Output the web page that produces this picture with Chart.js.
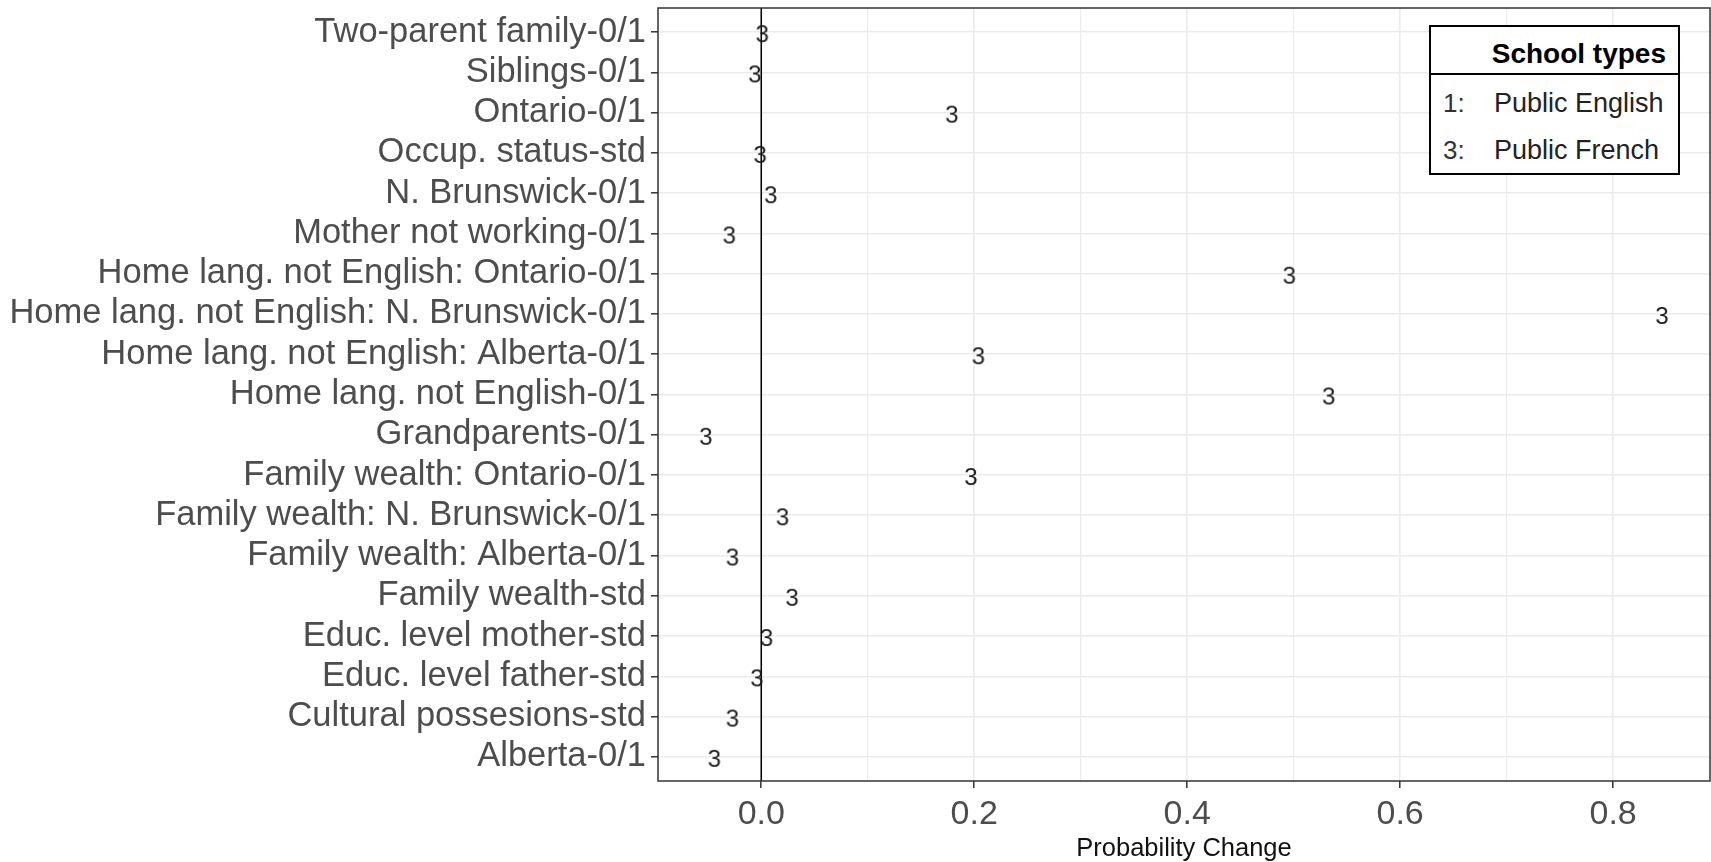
<!DOCTYPE html>
<html>
<head>
<meta charset="utf-8">
<script src="https://cdn.jsdelivr.net/npm/chart.js@4.4.1/dist/chart.umd.min.js"></script>
<style>
html,body{margin:0;padding:0;background:#fff;}
#wrap{position:relative;width:1711px;height:862px;overflow:hidden;}
#legend{position:absolute;left:1429px;top:25px;width:251px;height:150px;box-sizing:border-box;border:2px solid #000;background:#fff;font-family:"Liberation Sans",Arial,sans-serif;}
#legend .sep{position:absolute;left:0;right:0;top:46px;height:0;border-top:2px solid #000;}
#legend .t{position:absolute;line-height:1;transform:translateY(-50%);white-space:nowrap;}
#legend .title{right:12px;top:27px;font-weight:bold;font-size:28px;color:#000;}
#legend .k{left:12px;font-size:26px;color:#333;}
#legend .v{left:63px;font-size:27px;color:#222;}
</style>
</head>
<body>
<div id="wrap">
<canvas id="c" width="1711" height="862"></canvas>
<div id="legend">
  <div class="t title" id="legTitle"></div>
  <div class="sep"></div>
</div>
</div>
<script>
// ---- data ----
const categories = [
  "Two-parent family-0/1",
  "Siblings-0/1",
  "Ontario-0/1",
  "Occup. status-std",
  "N. Brunswick-0/1",
  "Mother not working-0/1",
  "Home lang. not English: Ontario-0/1",
  "Home lang. not English: N. Brunswick-0/1",
  "Home lang. not English: Alberta-0/1",
  "Home lang. not English-0/1",
  "Grandparents-0/1",
  "Family wealth: Ontario-0/1",
  "Family wealth: N. Brunswick-0/1",
  "Family wealth: Alberta-0/1",
  "Family wealth-std",
  "Educ. level mother-std",
  "Educ. level father-std",
  "Cultural possesions-std",
  "Alberta-0/1"
];
const publicFrench = [0.001, -0.006, 0.179, -0.001, 0.009, -0.030, 0.496, 0.846, 0.204, 0.533,
                      -0.052, 0.197, 0.020, -0.027, 0.029, 0.005, -0.004, -0.027, -0.044];
const markerLabel = "3";
const xTickValues = [0, 0.2, 0.4, 0.6, 0.8];
const xTickLabels = ["0.0", "0.2", "0.4", "0.6", "0.8"];
const xMinorValues = [0.1, 0.3, 0.5, 0.7];
const legendTitle = "School types";
const legendKeys = ["1:", "3:"];
const legendNames = ["Public English", "Public French"];
const xTitle = "Probability Change";

// ---- legend (HTML text) ----
const leg = document.getElementById('legend');
document.getElementById('legTitle').textContent = legendTitle;
const rowY = [76, 123];
legendKeys.forEach((k, i) => {
  const a = document.createElement('div'); a.className = 't k'; a.style.top = rowY[i] + 'px'; a.textContent = k; leg.appendChild(a);
  const b = document.createElement('div'); b.className = 't v'; b.style.top = rowY[i] + 'px'; b.textContent = legendNames[i]; leg.appendChild(b);
});

// ---- marker glyph ----
const FONT = '"Liberation Sans", Arial, sans-serif';
const glyph = document.createElement('canvas');
glyph.width = 24; glyph.height = 34;
{
  const g = glyph.getContext('2d');
  g.font = '24px ' + FONT;
  g.fillStyle = '#1a1a1a';
  g.textAlign = 'center';
  g.textBaseline = 'alphabetic';
  g.fillText(markerLabel, 12, 17 + 0.358 * 24 + 1);
}

Chart.defaults.font.family = FONT;

const gridVals = xTickValues.concat(xMinorValues).sort((a, b) => a - b);
const isMajor = v => xTickValues.some(t => Math.abs(t - v) < 1e-9);
const noPad = s => { s.paddingTop = 0; s.paddingBottom = 0; s.paddingLeft = 0; s.paddingRight = 0; };

const panelBorder = {
  id: 'panelBorder',
  afterDatasetsDraw(chart) {
    const {ctx, chartArea: a} = chart;
    ctx.save();
    ctx.strokeStyle = '#333';
    ctx.lineWidth = 1.5;
    ctx.strokeRect(a.left, a.top, a.right - a.left, a.bottom - a.top);
    ctx.restore();
  }
};

const target = {left: 658, top: 8, right: 1710, bottom: 781};

const chart = new Chart(document.getElementById('c'), {
  type: 'scatter',
  data: {
    datasets: [
      {
        label: 'Public French',
        data: publicFrench.map((v, i) => ({x: v, y: i})),
        pointStyle: glyph,
        pointRadius: 10,
        pointHoverRadius: 10
      },
      {
        label: 'zero',
        data: [{x: 0, y: -0.6}, {x: 0, y: categories.length - 0.4}],
        showLine: true,
        borderColor: '#000',
        borderWidth: 1.5,
        pointRadius: 0
      }
    ]
  },
  options: {
    responsive: false,
    animation: false,
    devicePixelRatio: 1,
    layout: {autoPadding: false, padding: {top: 8, right: 1, left: 0, bottom: 0}},
    plugins: {legend: {display: false}, tooltip: {enabled: false}},
    scales: {
      x: {
        type: 'linear',
        min: -0.097,
        max: 0.891,
        afterBuildTicks: axis => { axis.ticks = gridVals.map(v => ({value: v})); },
        afterFit: s => { s.height = 81; noPad(s); },
        ticks: {
          autoSkip: false,
          maxRotation: 0,
          padding: 6,
          color: '#4d4d4d',
          font: {size: 34},
          callback: v => { const i = xTickValues.findIndex(t => Math.abs(t - v) < 1e-9); return i >= 0 ? xTickLabels[i] : ''; }
        },
        grid: {
          color: '#ebebeb',
          lineWidth: c => (c.tick && isMajor(c.tick.value)) ? 1.6 : 1.1,
          tickColor: c => (c.tick && isMajor(c.tick.value)) ? '#333' : 'rgba(0,0,0,0)',
          tickLength: 7,
          tickWidth: 1.5
        },
        border: {display: false},
        title: {display: true, text: xTitle, color: '#111', font: {size: 25.5}, padding: {top: 0, bottom: -2}}
      },
      y: {
        type: 'linear',
        reverse: true,
        min: -0.6,
        max: categories.length - 0.4,
        afterBuildTicks: axis => { axis.ticks = categories.map((c, i) => ({value: i})); },
        afterFit: s => { s.width = 658; noPad(s); },
        ticks: {
          autoSkip: false,
          padding: 5,
          color: '#4d4d4d',
          font: {size: 34.5},
          callback: v => categories[Math.round(v)] || ''
        },
        grid: {
          color: '#ebebeb',
          lineWidth: 1.6,
          tickColor: '#333',
          tickLength: 7,
          tickWidth: 1.5
        },
        border: {display: false}
      }
    }
  },
  plugins: [panelBorder]
});

// correct any residual layout offset so the panel sits where the reference has it
for (let k = 0; k < 3; k++) {
  const a = chart.chartArea, p = chart.options.layout.padding;
  const dT = a.top - target.top, dR = target.right - a.right, dB = target.bottom - a.bottom, dL = a.left - target.left;
  if (Math.abs(dT) < 0.5 && Math.abs(dR) < 0.5 && Math.abs(dB) < 0.5 && Math.abs(dL) < 0.5) break;
  p.top -= dT; p.right -= dR; p.bottom -= dB; p.left -= dL;
  chart.update('none');
}
</script>
</body>
</html>
